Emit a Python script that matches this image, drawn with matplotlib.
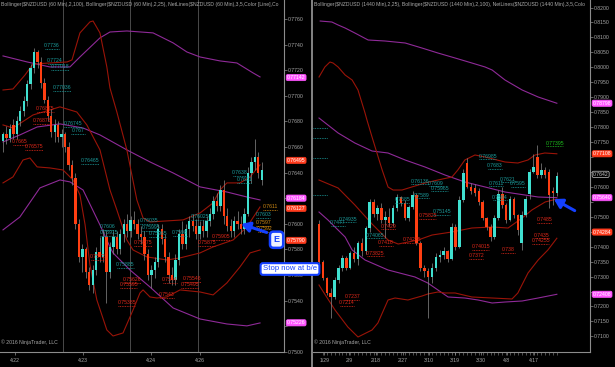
import matplotlib
matplotlib.use('Agg')
import matplotlib.pyplot as plt
import matplotlib.transforms as mtransforms

plt.rcParams['font.family'] = ['Liberation Sans', 'DejaVu Sans']

# ---------------- LEFT PANEL DATA (60 min) ----------------
l_open  = [.7665,.7670,.7667,.7677,.7670,.7680,.7688,.7696,.7709,.7722,.7734,.7726,.7710,.7697,.7684,.7672,.7677,.7668,.7670,.7660,
           .7646,.7636,.7600,.7574,.7580,.7562,.7552,.7564,.7578,.7574,.7590,.7562,.7582,.7590,.7580,.7592,.7600,.7594,.7603,.7600,
           .7592,.7590,.7576,.7560,.7564,.7570,.7596,.7588,.7574,.7560,.7556,.7572,.7592,.7584,.7596,.7602,.7598,.7592,.7598,.7594,
           .7602,.7608,.7618,.7614,.7626,.7606,.7598,.7594,.7602,.7600,.7596,.7608,.7640,.7648,.7652,.7634]
l_high  = [.7672,.7676,.7678,.7682,.7684,.7692,.7700,.7712,.7725,.7737,.7736,.7730,.7714,.7700,.7690,.7682,.7680,.7674,.7672,.7664,
           .7650,.7640,.7604,.7584,.7582,.7566,.7568,.7582,.7590,.7596,.7594,.7586,.7594,.7594,.7596,.7604,.7608,.7606,.7610,.7604,
           .7598,.7594,.7580,.7568,.7574,.7600,.7600,.7592,.7578,.7566,.7576,.7596,.7602,.7600,.7606,.7608,.7604,.7602,.7603,.7606,
           .7612,.7622,.7624,.7630,.7634,.7612,.7604,.7606,.7610,.7606,.7612,.7644,.7652,.7666,.7656,.7648]
l_low   = [.7656,.7662,.7664,.7666,.7666,.7676,.7684,.7692,.7705,.7718,.7722,.7706,.7694,.7680,.7668,.7664,.7664,.7660,.7656,.7642,
           .7630,.7596,.7570,.7562,.7558,.7548,.7546,.7560,.7570,.7570,.7538,.7558,.7576,.7576,.7576,.7586,.7590,.7590,.7596,.7588,
           .7584,.7572,.7556,.7550,.7558,.7566,.7584,.7570,.7554,.7552,.7552,.7568,.7580,.7580,.7590,.7594,.7588,.7588,.7590,.7590,
           .7598,.7604,.7610,.7610,.7600,.7594,.7590,.7590,.7596,.7592,.7592,.7606,.7632,.7642,.7636,.7630]
l_close = [.7670,.7667,.7674,.7670,.7680,.7688,.7696,.7709,.7722,.7734,.7726,.7710,.7697,.7684,.7672,.7677,.7668,.7670,.7660,.7646,
           .7636,.7600,.7574,.7580,.7562,.7552,.7564,.7578,.7574,.7590,.7562,.7582,.7590,.7580,.7592,.7600,.7594,.7603,.7600,.7592,
           .7590,.7576,.7560,.7564,.7570,.7596,.7588,.7574,.7560,.7556,.7572,.7592,.7584,.7596,.7602,.7598,.7592,.7598,.7594,.7602,
           .7608,.7618,.7614,.7626,.7606,.7598,.7594,.7602,.7600,.7596,.7608,.7640,.7648,.7652,.7640,.7642]

l_up25_x  = [0,2.9,6.4,8.7,13.6,18.6,20,22.3,25.2,26.1,28.1,30.1,31,33,35.9,38.8,40.6,42.6,52.2,57.1,60.9,62.9,64.9,68.7,71.6,74.5]
l_up25_y  = [.77045,.77053,.77163,.77248,.77256,.77264,.7728,.77491,.77577,.77584,.77491,.77225,.77061,.76873,.76577,.76186,.76045,
             .76014,.7603,.76084,.76163,.76264,.76319,.76319,.76366,.7646]
l_mid25_x = [0,2.9,8.7,13.6,16.5,21.4,24.3,28.1,31,33,35.9,37.7,41.7,47.5,51.3,57.1,60.9,66.7,70.7,74.5]
l_mid25_y = [.76772,.76748,.7685,.76889,.76913,.76873,.76772,.76577,.76264,.76108,.75873,.75795,.75741,.75717,.75733,.75772,
             .75819,.75873,.75975,.76131]
l_lo25_x  = [0,2.9,5.8,7.8,9.9,13.6,17.4,20.3,22.3,23.8,25.2,27.2,30.1,31.9,34.8,37.7,39.7,40.6,42.6,44.6,47.5,51.3,57.1,60.9,
             64.9,68.7,71.6,74.5]
l_lo25_y  = [.76319,.76366,.76498,.76514,.76444,.76436,.7642,.76342,.76225,.75991,.75678,.75405,.7517,.75123,.75147,.75327,.75459,
             .75483,.75428,.7542,.75428,.75483,.75467,.75444,.75538,.75663,.75772,.75795]
l_up100_x = [0,7,13.6,19.4,22.3,28.1,31,35.9,43.5,49.3,53.3,57.1,62.9,67.8,72.5,74.5]
l_up100_y = [.77311,.77264,.77225,.77225,.77303,.77452,.77498,.77506,.77491,.77413,.77342,.77303,.77272,.77256,.77178,.77147]
l_mid100_x = [0,4.9,9.9,16.5,23.2,28.1,35.9,42.6,49.3,57.1,64.9,70.7,74.5]
l_mid100_y = [.76639,.76694,.76756,.7678,.76748,.76694,.76577,.76483,.76397,.76288,.76248,.76209,.76186]
l_lo100_x = [0,4.9,10.7,16.5,19.4,23.2,28.1,31,31.9,36.8,42.6,49.3,57.1,64.9,70.7,74.5]
l_lo100_y = [.75952,.76053,.7628,.76342,.76327,.76264,.75991,.75819,.75772,.75639,.75506,.75342,.75256,.75217,.75202,.75225]

l_cyan_labels = [("0.7736",14.2,.77389),("0.7724",15.1,.77272),("0.77018",16.5,.77225),("0.77036",17.1,.77061),
                 ("0.76745",20.3,.76780),("0.767",21.7,.76725),("0.76465",25.2,.76491),("0.7606",30.4,.75975),
                 ("0.75915",30.7,.75928),("0.75885",35.4,.75678),("0.76035",42.3,.76022),("0.75995",42.9,.75967),
                 ("0.75965",44.9,.75920),("0.7598",51.3,.75928),("0.76025",57.1,.76053),("0.7638",68.7,.76397),
                 ("0.7631",69.9,.76342),("0.7603",75.4,.76069)]
l_red_labels = [("0.76875",12.2,.76897),("0.76875",11.3,.76803),("0.7665",4.9,.76639),("0.76575",9.0,.7660),
                ("0.7572",27.5,.75741),("0.75875",40.6,.7585),("0.75905",63.2,.75897),("0.75875",59.1,.7585),
                ("0.75626",37.4,.75561),("0.75595",36.5,.75522),("0.7544",48.4,.75561),("0.75546",54.8,.75569),
                ("0.75495",54.2,.75522),("0.7543",47.5,.75444),("0.75385",35.9,.75381)]
l_orange_labels = [("0.7611",77.4,.76131),("0.7597",75.4,.76006),("0.7592",75.9,.75959)]
l_markers = [("0.77142",.77142,'m'),("0.76495",.76495,'r'),("0.76184",.76200,'m'),("0.76127",.76120,'r'),
             ("0.75790",.7587,'r'),("0.75226",.75226,'m')]
l_xticks = [3.6,23.1,42.9,57.1]
l_xlabels = ['4/22','4/23','4/24','4/26']
l_sessions = [17.4,36.8,56.5]
l_yticks = [0.7500+0.002*k for k in range(14)]

# ---------------- RIGHT PANEL DATA (daily) ----------------
r_open  = [.7475,.7350,.7296,.7246,.7232,.7290,.7330,.7362,.7330,.7378,.7360,.7412,.7384,.7462,.7548,.7510,.7530,.7490,.7500,.7480,
           .7530,.7565,.7545,.7496,.7533,.7573,.7412,.7330,.7318,.7300,.7330,.7366,.7372,.7385,.7360,.7466,.7400,.7556,.7680,.7600,
           .7595,.7585,.7548,.7496,.7466,.7432,.7496,.7576,.7540,.7490,.7560,.7505,.7412,.7506,.7576,.7650,.7700,.7640,.7656,.7650,
           .7585,.7580]
r_high  = [.7490,.7355,.7300,.7262,.7300,.7340,.7372,.7370,.7385,.7400,.7420,.7430,.7470,.7560,.7560,.7540,.7545,.7520,.7530,.7540,
           .7575,.7570,.7555,.7540,.7585,.7580,.7420,.7340,.7330,.7345,.7380,.7390,.7400,.7390,.7480,.7475,.7570,.7660,.7695,.7612,
           .7610,.7595,.7555,.7500,.7475,.7505,.7590,.7600,.7545,.7570,.7565,.7510,.7520,.7570,.7660,.7710,.77395,.7680,.7665,.7660,
           .7600,.7650]
r_low   = [.7340,.7290,.7240,.7160,.7225,.7280,.7320,.7322,.7326,.7350,.7340,.7370,.7376,.7450,.7500,.7490,.7480,.7430,.7470,.7470,
           .7520,.7535,.7490,.7485,.7525,.7405,.7320,.7300,.7160,.7280,.7320,.7350,.7360,.7350,.7355,.7390,.7395,.7550,.7595,.7575,
           .7570,.7540,.7490,.7455,.7420,.7425,.7490,.7530,.7480,.7485,.7495,.7440,.7390,.7500,.7560,.7645,.7630,.7630,.7630,.7530,
           .7540,.7570]
r_close = [.7350,.7296,.7246,.7232,.7290,.7330,.7362,.7330,.7378,.7360,.7412,.7384,.7462,.7548,.7510,.7530,.7490,.7500,.7480,.7530,
           .7565,.7545,.7496,.7533,.7573,.7412,.7330,.7318,.7300,.7330,.7366,.7372,.7385,.7360,.7466,.7400,.7556,.7646,.7600,.7585,
           .7580,.7548,.7496,.7466,.7432,.7496,.7576,.7540,.7490,.7560,.7505,.7455,.7506,.7560,.7650,.7666,.7640,.7656,.7640,.7574,
           .7580,.7638]

r_up25_x = [0,1.5,2.8,3.6,4.9,6.7,8.5,10,11.8,12.3,13.6,16.2,17.7,19,21.3,23.8,27.2,30.5,34.1,35.6,37.4,40,42.6,47.7,51,53.6,
            55.4,57.9,61]
r_up25_y = [.79676,.8001,.80177,.80144,.8001,.79742,.79575,.79241,.78472,.78237,.77669,.76565,.75997,.75896,.75896,.75997,.76131,
            .76231,.76331,.76565,.769,.77067,.770,.76833,.76799,.769,.77067,.77134,.77108]
r_mid25_x = [0,4.9,9.2,13.6,17.7,20.3,25.4,29,34.1,39.2,44.4,48.5,52.1,54.6,58,61]
r_mid25_y = [.76231,.75963,.75395,.74759,.74224,.7409,.74224,.74391,.74492,.74625,.74659,.74625,.7496,.75227,.75495,.75595]
r_lo25_x = [0,0.8,4.1,7.4,10,13.6,15.1,17.7,19.5,22.8,24.6,26.4,27.9,30.5,32.3,34.9,39.2,44.4,49.5,51,53.6,56.2,58.7,61]
r_lo25_y = [.72719,.72552,.71883,.71314,.7098,.71214,.71448,.72217,.72284,.72217,.72284,.7235,.72418,.72485,.72452,.72452,.72318,
            .72284,.72251,.72452,.7312,.73555,.7389,.74284]
r_up100_x = [0.3,3.3,4.9,6.7,9.2,12.6,16.9,22.1,26.4,30.5,34.9,39.2,42.6,44.4,47.7,52.1,56.2,61]
r_up100_y = [.81548,.81515,.81415,.81314,.81147,.80913,.8088,.80813,.80645,.80478,.80311,.80144,.8001,.7991,.79575,.79241,.79007,
             .78798]
r_mid100_x = [0,4.9,9.2,13.6,17.7,22.1,27.2,32.3,37.4,42.6,47.7,52.8,56.2,61]
r_mid100_y = [.78304,.77803,.77468,.772,.77134,.76899,.76665,.76398,.76164,.75997,.75829,.75729,.75662,.7564]
r_lo100_x = [0,2.3,6.7,8.5,11.8,17.7,24.6,27.9,30.5,33.1,37.4,40.8,44.4,47.7,52.1,56.2,61]
r_lo100_y = [.7516,.74893,.74324,.7389,.73555,.73221,.72987,.72786,.72552,.72318,.72284,.72217,.72117,.7215,.72184,.72284,.72408]

r_cyan_labels = [("0.76985",43.3,.77033),("0.7683",45.1,.76699),("0.76136",25.9,.76197),("0.7609",30,.7613),
                 ("0.75965",31,.75963),("0.7589",26.4,.75729),("0.7621",48.5,.76264),("0.7595",51,.76097),
                 ("0.7611",45.4,.7613),("0.7564",46.4,.75662),("0.75145",31.5,.75161),("0.7585",21.5,.75562),
                 ("0.74935",7.4,.74926),("0.7477",4.9,.74793),("0.74065",14.4,.74391),
                 ("",0.4,.7807),("",0.4,.77736),("",0.4,.77067),("",0.4,.75829)]
r_green_labels = [("0.77395",60.5,.77468)]
r_red_labels = [("0.7429",17.9,.74692),("0.7418",17.2,.74124),("0.74235",23.8,.74224),("0.74015",41.5,.7399),
                ("0.7485",57.9,.74893),("0.7435",57.2,.74391),("0.74255",56.9,.74191),("0.75825",27.9,.75027),
                ("0.73825",14.4,.73789),("0.7372",40.3,.73689),("0.738",48.5,.7389),("0.7237",8.5,.72318),
                ("0.7214",7.2,.72117)]
r_markers = [("0.78798",.78798,'m'),("0.77108",.77108,'r'),("0.7642",.7642,'k'),("0.75640",.7564,'m'),
             ("0.74284",.7449,'r'),("0.72408",.72408,'m')]
r_xticks = [1.4,7.7,14.6,21.5,28.2,34.9,41.5,48.2,55.1]
r_xlabels = ['1/29','2/9','2/18','2/27','3/10','3/19','3/30','4/8','4/17']
r_yticks = [0.7100+0.005*k for k in range(23)]

# ---------------- STYLE ----------------
BG = 'black'
UP = '#40E0D0'
DN = '#FF3F12'
WICK = '#8a8a8a'
DKRED = '#9a1408'
PURP = '#8f2a98'
CYTXT = '#1c9c9c'
RDTXT = '#e0281a'
ORTXT = '#d08a14'
GRTXT = '#1ec21e'
AXC = '#8c8c8c'
TXC = '#a8a8a8'
FS = 3.7
BLUE = '#1440ff'
MARKC = {'m': ('#ff55ff', 'white', '#ff55ff'), 'r': ('#ff3b1d', 'white', '#ff3b1d'), 'k': ('black', '#c8c8c8', '#c8c8c8')}

W, H = 615, 367
fig = plt.figure(figsize=(W/100, H/100), dpi=100, facecolor=BG)
axL = fig.add_axes([0, 15/H, 284/W, 352/H], facecolor=BG)
axR = fig.add_axes([313/W, 15/H, 277/W, 352/H], facecolor=BG)


def candles(ax, o, h, l, c, width):
    xs = range(len(o))
    ax.vlines(xs, l, h, color=WICK, lw=0.5, zorder=3)
    for x, oo, cc in zip(xs, o, c):
        col = UP if cc >= oo else DN
        bot = min(oo, cc)
        ht = max(abs(cc - oo), 0.00004)
        ax.bar(x, ht, bottom=bot, width=width, color=col, lw=0, zorder=4)


def labels(ax, items, color, pxbar, pxunit):
    for s, x, y in items:
        if s:
            ax.text(x, y, s, color=color, fontsize=FS, ha='center', va='center', zorder=6)
        n = max(len(s), 6)
        w = n * 2.45 / pxbar / 2
        yy = y - 3.3 / pxunit
        ax.plot([x - w, x + w], [yy, yy], color=color, lw=0.6, ls=(0, (1, 1)), zorder=6)


def style_axes(ax, ylim, xlim, yticks, xt, xl, title, marks, pxunit):
    ax.set_ylim(*ylim)
    ax.set_xlim(*xlim)
    for sp in ['top', 'left']:
        ax.spines[sp].set_visible(False)
    for sp in ['right', 'bottom']:
        ax.spines[sp].set_color(AXC)
        ax.spines[sp].set_linewidth(0.8)
    ax.yaxis.tick_right()
    ax.set_yticks(yticks)
    # tick labels covered by a price marker are hidden behind it (as in the original)
    tl = []
    for v in yticks:
        covered = any(abs(v - m[1]) * pxunit < 5.0 for m in marks)
        tl.append('' if covered else '%.4f' % v)
    ax.set_yticklabels(tl)
    ax.tick_params(axis='y', colors=AXC, labelcolor=TXC, labelsize=FS, length=2, width=0.5, pad=1)
    ax.set_xticks(xt)
    ax.set_xticklabels(xl)
    ax.tick_params(axis='x', colors=AXC, labelcolor=TXC, labelsize=FS, length=2, width=0.5, pad=2.5)
    ax.text(0.004, 0.995, title, transform=ax.transAxes, color=TXC, fontsize=FS, ha='left', va='top', zorder=7)
    ax.text(0.004, 0.02, '\u00a9 2016 NinjaTrader, LLC', transform=ax.transAxes, color=TXC, fontsize=FS,
            ha='left', va='bottom', zorder=7)


def markers(ax, items):
    tr = mtransforms.blended_transform_factory(ax.transAxes, ax.transData)
    for s, y, k in items:
        fc, tc, ec = MARKC[k]
        ax.text(1.01, y, s, transform=tr, color=tc, fontsize=FS, ha='left', va='center', zorder=9,
                bbox=dict(boxstyle='round,pad=0.12,rounding_size=0.3', fc=fc, ec=ec, lw=0.5), clip_on=False)


# ---------- LEFT ----------
lpx_bar, lpx_unit = 3.45, 12800
style_axes(axL, (0.74998, 0.77748), (-0.87, 81.45), l_yticks, l_xticks, l_xlabels,
           'Bollinger($NZDUSD (60 Min),2,100), Bollinger($NZDUSD (60 Min),2,25), NetLines($NZDUSD (60 Min),3,5,Color [Line],Co',
           l_markers, lpx_unit)
for s in l_sessions:
    axL.axvline(s, color='#4a4a4a', lw=0.7, zorder=1)
axL.plot(l_up100_x, l_up100_y, color=PURP, lw=0.8, zorder=2)
axL.plot(l_mid100_x, l_mid100_y, color=PURP, lw=0.8, zorder=2)
axL.plot(l_lo100_x, l_lo100_y, color=PURP, lw=0.8, zorder=2)
axL.plot(l_up25_x, l_up25_y, color=DKRED, lw=0.8, zorder=2)
axL.plot(l_mid25_x, l_mid25_y, color=DKRED, lw=0.8, zorder=2)
axL.plot(l_lo25_x, l_lo25_y, color=DKRED, lw=0.8, zorder=2)
candles(axL, l_open, l_high, l_low, l_close, 0.68)
labels(axL, l_cyan_labels, CYTXT, lpx_bar, lpx_unit)
labels(axL, l_red_labels, RDTXT, lpx_bar, lpx_unit)
labels(axL, l_orange_labels, ORTXT, lpx_bar, lpx_unit)
markers(axL, l_markers)

# arrow + E
axL.annotate('', xy=(68.3, 0.76005), xytext=(77.2, 0.75925),
             arrowprops=dict(arrowstyle='-|>,head_length=0.5,head_width=0.3', color=BLUE, lw=2.2), zorder=10)
axL.text(79.3, 0.75875, 'E', color=BLUE, fontsize=6.5, fontweight='bold', ha='center', va='center', zorder=11,
         bbox=dict(boxstyle='round,pad=0.4,rounding_size=0.4', fc='#eef2ff', ec=BLUE, lw=1.8))

# ---------- RIGHT ----------
rpx_bar, rpx_unit = 3.9, 2990
style_axes(axR, (0.70478, 0.82251), (-1.54, 69.5), r_yticks, r_xticks, r_xlabels,
           'Bollinger($NZDUSD (1440 Min),2,25), Bollinger($NZDUSD (1440 Min),2,100), NetLines($NZDUSD (1440 Min),3,5,Colo',
           r_markers, rpx_unit)
axR.set_xticks(list(range(1, 62)), minor=True)
axR.tick_params(axis='x', which='minor', colors=AXC, length=2, width=0.4)
axR.plot(r_up100_x, r_up100_y, color=PURP, lw=0.8, zorder=2)
axR.plot(r_mid100_x, r_mid100_y, color=PURP, lw=0.8, zorder=2)
axR.plot(r_lo100_x, r_lo100_y, color=PURP, lw=0.8, zorder=2)
axR.plot(r_up25_x, r_up25_y, color=DKRED, lw=0.8, zorder=2)
axR.plot(r_mid25_x, r_mid25_y, color=DKRED, lw=0.8, zorder=2)
axR.plot(r_lo25_x, r_lo25_y, color=DKRED, lw=0.8, zorder=2)
candles(axR, r_open, r_high, r_low, r_close, 0.66)
labels(axR, r_cyan_labels, CYTXT, rpx_bar, rpx_unit)
labels(axR, r_red_labels, RDTXT, rpx_bar, rpx_unit)
labels(axR, r_green_labels, GRTXT, rpx_bar, rpx_unit)
markers(axR, r_markers)
axR.annotate('', xy=(59.6, 0.75640), xytext=(66.2, 0.75161),
             arrowprops=dict(arrowstyle='-|>,head_length=0.5,head_width=0.3', color=BLUE, lw=2.2), zorder=10)

# divider between panels
fig.add_artist(plt.Line2D([311.5/W, 311.5/W], [0, 1], color='#9a9a9a', lw=1.2))

# Stop note
fig.text(290/W, 1 - 269/H, 'Stop now at b/e', color=BLUE, fontsize=5.6, ha='center', va='center', zorder=20,
         bbox=dict(boxstyle='round,pad=0.3,rounding_size=0.3', fc='white', ec=BLUE, lw=1.5))

fig.savefig('out.png', dpi=100, facecolor=BG)
